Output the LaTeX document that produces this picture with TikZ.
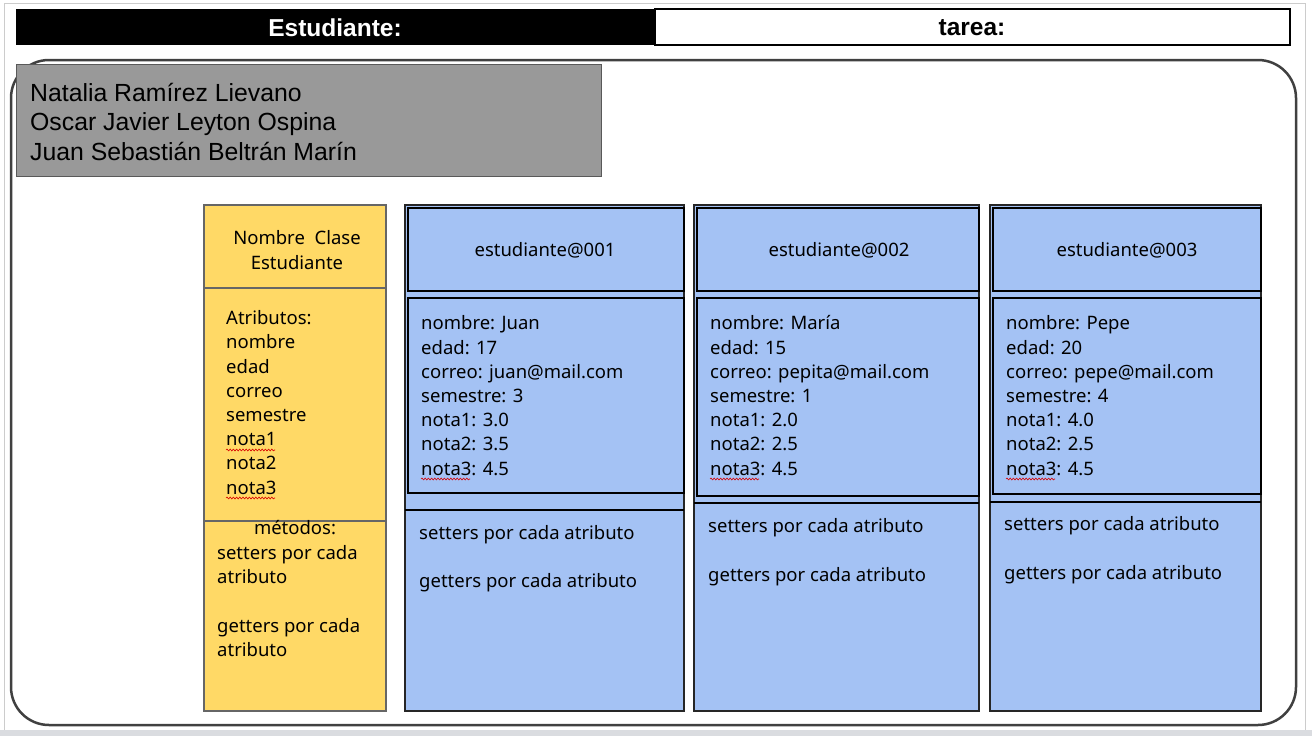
\documentclass[tikz,border=0pt]{standalone}
\usepackage{fontspec}
\setmainfont{Noto Sans}
\newfontfamily\arialf{Liberation Sans}
\usetikzlibrary{decorations.pathmorphing}
\definecolor{clsyellow}{HTML}{FFD966}
\definecolor{objblue}{HTML}{A4C2F4}
\definecolor{namegray}{HTML}{999999}
\definecolor{framegray}{HTML}{404040}
\definecolor{pagegray}{HTML}{DADCE0}
\definecolor{lightline}{HTML}{CCCCCC}
\begin{document}
\begin{tikzpicture}[x=1pt,y=-1pt,
  body/.style={font=\fontsize{18.5}{24.2}\selectfont, inner sep=0pt, align=left, text=black},
  bodyc/.style={font=\fontsize{18.5}{24.2}\selectfont, inner sep=0pt, align=center, text=black},
  ybox/.style={draw=black!60, fill=clsyellow, line width=1.2pt},
  bbox/.style={draw=black!85, fill=objblue, line width=1.2pt},
  bline/.style={draw=black, line width=1.3pt},
  squig/.style={draw=red!85!black, line width=0.6pt, decorate, decoration={snake, amplitude=0.9pt, segment length=3.2pt}}
]
\useasboundingbox (0,0) rectangle (1312,736);
\fill[white] (0,0) rectangle (1312,736);
% page frame
\draw[lightline, line width=0.8pt] (4,736) -- (4,3) -- (1305,3) -- (1305,736);
\fill[pagegray] (0,730) rectangle (1312,736);
% header
\fill[black] (16,9) rectangle (655,45);
\draw[black, line width=1.2pt, fill=white] (655,9) rectangle (1290,45);
\node[font=\arialf\bfseries\fontsize{24.5}{28}\selectfont, text=white, inner sep=0pt] (hest) at (335,27.5) {Estudiante:};
\node[font=\arialf\bfseries\fontsize{24.5}{28}\selectfont, text=black, inner sep=0pt] (htar) at (972,27.5) {tarea:};
% rounded frame
\draw[framegray, line width=2.5pt, rounded corners=38pt] (11,60) rectangle (1296,725);
% names box
\draw[draw=black!65, fill=namegray, line width=1pt] (16,64) rectangle (601,176);
\node[font=\arialf\fontsize{24.8}{29.5}\selectfont, inner sep=0pt, align=left, anchor=west] (names) at (30,121.5)
  {Natalia Ramírez Lievano\\Oscar Javier Leyton Ospina\\Juan Sebastián Beltrán Marín};
% class box
\draw[ybox] (204,205) rectangle (386,711);
\draw[ybox, fill=none] (204,288) -- (386,288);
\draw[ybox, fill=none] (204,521) -- (386,521);
\node[bodyc] (cname) at (297,250) {Nombre\ \ Clase\\Estudiante};
\node[body, anchor=west] (cattr) at (226,402.5) {Atributos:\\nombre\\edad\\correo\\semestre\\nota1\\nota2\\nota3};
\node[bodyc] (cmet) at (295,528) {métodos:};
\node[body, anchor=west] (cmeth) at (217,601) {setters por cada\\atributo\\[24.2pt]getters por cada\\atributo};
\draw[squig] (226,450) -- (275,450);
\draw[squig] (226,498) -- (275,498);
% object 1
\draw[bbox] (405,205) rectangle (684,711);
\draw[bline] (408,208) rectangle (684,291);
\draw[bline] (408,298) rectangle (684,493);
\draw[bline] (405,510) -- (684,510);
\node[bodyc] (o1h) at (545,250) {estudiante@001};
\node[body, anchor=west] (o1a) at (421,395.5) {nombre: Juan\\edad: 17\\correo: juan@mail.com\\semestre: 3\\nota1: 3.0\\nota2: 3.5\\nota3: 4.5};
\node[body, anchor=west] (o1m) at (419,558.5) {setters por cada atributo\\[24.2pt]getters por cada atributo};
\draw[squig] (421,479) -- (470,479);
% object 2
\draw[bbox] (694,205) rectangle (979,711);
\draw[bline] (697,208) rectangle (979,291);
\draw[bline] (697,298) rectangle (979,496);
\draw[bline] (694,503) -- (979,503);
\node[bodyc] (o2h) at (839,250) {estudiante@002};
\node[body, anchor=west] (o2a) at (710,395.5) {nombre: María\\edad: 15\\correo: pepita@mail.com\\semestre: 1\\nota1: 2.0\\nota2: 2.5\\nota3: 4.5};
\node[body, anchor=west] (o2m) at (708,552) {setters por cada atributo\\[24.2pt]getters por cada atributo};
\draw[squig] (710,479) -- (759,479);
% object 3
\draw[bbox] (990,205) rectangle (1261,711);
\draw[bline] (993,208) rectangle (1261,291);
\draw[bline] (993,298) rectangle (1261,494);
\draw[bline] (990,502) -- (1261,502);
\node[bodyc] (o3h) at (1127,250) {estudiante@003};
\node[body, anchor=west] (o3a) at (1006,395.5) {nombre: Pepe\\edad: 20\\correo: pepe@mail.com\\semestre: 4\\nota1: 4.0\\nota2: 2.5\\nota3: 4.5};
\node[body, anchor=west] (o3m) at (1004,550) {setters por cada atributo\\[24.2pt]getters por cada atributo};
\draw[squig] (1006,479) -- (1055,479);
\end{tikzpicture}
\end{document}
